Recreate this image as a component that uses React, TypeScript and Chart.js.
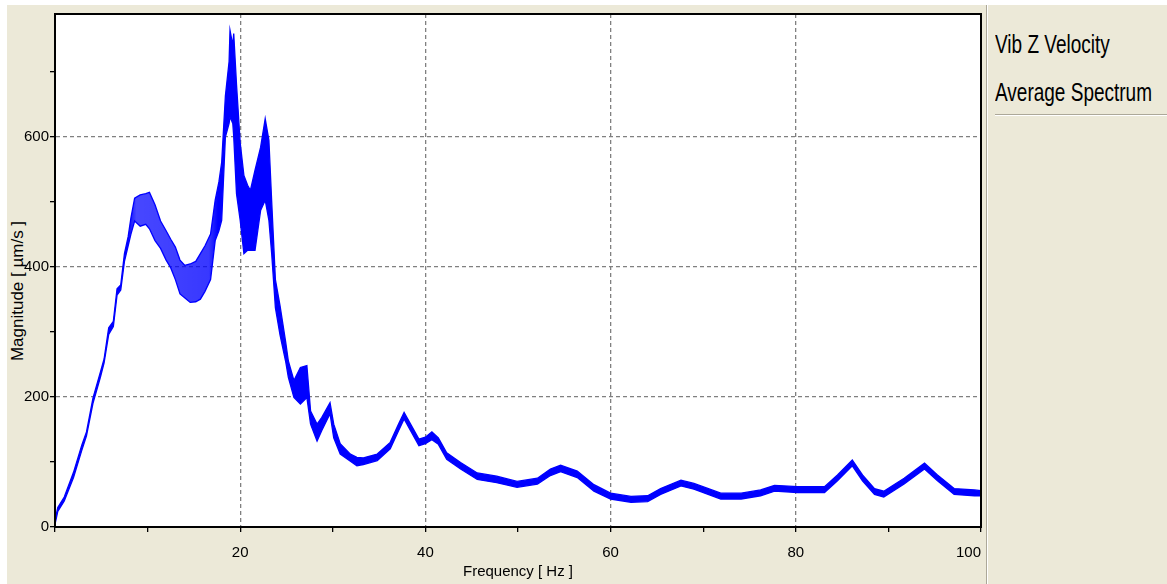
import React, { useEffect, useRef } from "react";
import { Chart, registerables } from "chart.js";

Chart.register(...registerables);

// Frequency points (Hz)
const freq = [
  0.0, 0.3, 1.0, 2.0, 2.9, 3.4, 4.1, 4.9, 5.3, 5.8, 6.3, 6.7, 7.1, 7.5, 7.9, 8.2, 8.6, 9.2, 9.8, 10.2,
  10.8, 11.4, 12.0, 12.5, 13.0, 13.5, 14.0, 14.6, 15.2, 15.7, 16.2, 16.8, 17.3, 17.7, 18.0, 18.4, 18.8, 18.9, 19.2, 19.3,
  19.6, 20.0, 20.4, 20.8, 21.1, 21.6, 22.2, 22.7, 23.1, 23.4, 23.8, 24.3, 24.9, 25.2, 25.8, 26.5, 27.2, 27.6, 28.3, 28.8,
  29.7, 30.1, 30.8, 31.9, 32.6, 33.3, 34.8, 36.2, 37.1, 37.7, 38.4, 39.3, 40.0, 40.7, 41.4, 42.3, 43.8, 45.6, 47.7, 49.9,
  52.1, 53.5, 54.6, 56.4, 58.2, 60.0, 62.2, 64.0, 65.4, 67.6, 69.0, 71.9, 74.1, 76.2, 77.7, 80.2, 83.1, 84.5, 86.1, 87.2,
  88.5, 89.5, 91.7, 93.9, 95.3, 97.1, 99.3, 100.0,
];

// Upper edge of the noisy spectrum trace (µm/s)
const upperMag = [
  10, 30, 46, 84, 126, 146, 198, 238, 258, 306, 316, 366, 372, 420, 446, 475, 505, 510, 512, 514,
  495, 470, 455, 442, 430, 410, 402, 404, 408, 420, 432, 450, 502, 530, 560, 662, 715, 763, 740, 758,
  680, 590, 540, 525, 517, 548, 583, 627, 594, 500, 380, 340, 285, 255, 225, 245, 248, 178, 158, 168,
  191, 158, 128, 112, 107, 106, 112, 130, 158, 176, 158, 135, 138, 146, 137, 114, 99, 83, 78, 70,
  75, 89, 95, 86, 65, 52, 47, 48, 59, 72, 67, 52, 52, 57, 64, 62, 62, 80, 103, 80,
  59, 55, 75, 98, 80, 59, 57, 56,
];

// Lower edge of the noisy spectrum trace (µm/s)
const lowerMag = [
  4, 24, 40, 76, 118, 140, 190, 230, 252, 296, 308, 356, 364, 408, 432, 450, 470, 462, 465, 458,
  440, 428, 410, 398, 380, 358, 352, 345, 346, 350, 362, 380, 440, 455, 471, 599, 620, 630, 620, 600,
  512, 471, 420, 425, 425, 425, 486, 502, 471, 420, 337, 295, 255, 230, 199, 189, 199, 158, 132, 148,
  174, 137, 112, 101, 94, 96, 102, 120, 148, 166, 148, 125, 128, 134, 127, 104, 89, 73, 68, 61,
  66, 79, 85, 76, 55, 43, 38, 39, 50, 63, 58, 43, 43, 48, 55, 53, 53, 71, 94, 71,
  50, 46, 66, 89, 71, 50, 48, 48,
];

const xTickValues = [0, 10, 20, 30, 40, 50, 60, 70, 80, 90, 100];
const xLabelValues = [20, 40, 60, 80, 100];
const xGridValues = [20, 40, 60, 80];
const yTickValues = [0, 100, 200, 300, 400, 500, 600, 700];
const yLabelValues = [0, 200, 400, 600];
const yGridValues = [200, 400, 600];
const xMin = 0;
const xMax = 100;
const yMin = 0;
const yMax = 788;

const xTitle = "Frequency [ Hz ]";
const yTitle = "Magnitude [ µm/s ]";
const legendLines = ["Vib Z Velocity", "Average Spectrum"];

const SANS = "'Liberation Sans', Arial, sans-serif";
const BEIGE = "#ECE9D8";
const TRACE = "#0000FF";

const plotFrame = {
  id: "plotFrame",
  beforeDraw(chart: any) {
    const { ctx, chartArea } = chart;
    if (!chartArea) return;
    ctx.save();
    ctx.fillStyle = "#ffffff";
    ctx.fillRect(chartArea.left, chartArea.top, chartArea.right - chartArea.left, chartArea.bottom - chartArea.top);
    ctx.restore();
  },
  afterDraw(chart: any) {
    const { ctx, chartArea } = chart;
    if (!chartArea) return;
    ctx.save();
    ctx.strokeStyle = "#000000";
    ctx.lineWidth = 2;
    ctx.setLineDash([]);
    ctx.strokeRect(chartArea.left, chartArea.top, chartArea.right - chartArea.left, chartArea.bottom - chartArea.top);
    ctx.restore();
  },
};

// band fill: the hatched-looking noisy stretch (≈8–17 Hz) is less dense than the rest
const bandFill = (c: any) => {
  const chart = c.chart;
  const area = chart.chartArea;
  if (!area) return TRACE;
  const g = chart.ctx.createLinearGradient(area.left, 0, area.right, 0);
  g.addColorStop(0, TRACE);
  g.addColorStop(0.078, TRACE);
  g.addColorStop(0.088, "rgba(0,0,255,0.72)");
  g.addColorStop(0.166, "rgba(0,0,255,0.78)");
  g.addColorStop(0.176, TRACE);
  g.addColorStop(1, TRACE);
  return g;
};

export default function App() {
  const canvasRef = useRef<HTMLCanvasElement | null>(null);

  useEffect(() => {
    if (!canvasRef.current) return;
    const upperPts = freq.map((f, i) => ({ x: f, y: upperMag[i] }));
    const lowerPts = freq.map((f, i) => ({ x: f, y: lowerMag[i] }));

    const chart = new Chart(canvasRef.current, {
      type: "line",
      data: {
        datasets: [
          {
            label: "upper",
            data: upperPts,
            borderColor: TRACE,
            borderWidth: 1.3,
            pointRadius: 0,
            tension: 0,
            fill: false,
          },
          {
            label: "lower",
            data: lowerPts,
            borderColor: TRACE,
            borderWidth: 1.3,
            pointRadius: 0,
            tension: 0,
            fill: "-1",
            backgroundColor: bandFill,
          },
        ],
      },
      options: {
        responsive: false,
        animation: false,
        events: [],
        layout: { padding: { left: 0, top: 14, right: 186, bottom: 0 } },
        plugins: {
          legend: { display: false },
          tooltip: { enabled: false },
          title: { display: false },
        },
        scales: {
          x: {
            type: "linear",
            min: xMin,
            max: xMax,
            afterBuildTicks: (s: any) => {
              s.ticks = xTickValues.map((v) => ({ value: v }));
            },
            afterFit: (s: any) => {
              s.height = 57;
            },
            ticks: {
              autoSkip: false,
              maxRotation: 0,
              align: "inner",
              padding: 12,
              color: "#000",
              font: { family: SANS, size: 15 },
              callback: (v: any) => (xLabelValues.includes(Number(v)) ? String(v) : ""),
            },
            grid: {
              color: (c: any) => (c.tick && xGridValues.includes(c.tick.value) ? "#808080" : "rgba(0,0,0,0)"),
              lineWidth: 1.3,
              drawTicks: true,
              tickLength: 5,
              tickColor: "#000",
              tickWidth: 1.3,
              borderDash: [4, 3],
              tickBorderDash: [],
            },
            border: { display: true, color: "#000", width: 2, dash: [4, 3] },
            title: {
              display: true,
              text: xTitle,
              color: "#000",
              font: { family: SANS, size: 15 },
              padding: { top: 0, bottom: 3 },
            },
          },
          y: {
            type: "linear",
            min: yMin,
            max: yMax,
            afterBuildTicks: (s: any) => {
              s.ticks = yTickValues.map((v) => ({ value: v }));
            },
            afterFit: (s: any) => {
              s.width = 55;
            },
            ticks: {
              autoSkip: false,
              padding: 1,
              color: "#000",
              font: { family: SANS, size: 15 },
              callback: (v: any) => (yLabelValues.includes(Number(v)) ? String(v) : ""),
            },
            grid: {
              color: (c: any) => (c.tick && yGridValues.includes(c.tick.value) ? "#808080" : "rgba(0,0,0,0)"),
              lineWidth: 1.3,
              drawTicks: true,
              tickLength: 5,
              tickColor: "#000",
              tickWidth: 1.3,
              borderDash: [4, 3],
              tickBorderDash: [],
            },
            border: { display: true, color: "#000", width: 2, dash: [4, 3] },
            title: { display: false },
          },
        },
      },
      plugins: [plotFrame],
    } as any);

    return () => chart.destroy();
  }, []);

  return (
    <div style={{ position: "fixed", left: 0, top: 0, width: 1167, height: 584, background: "#fff", overflow: "hidden" }}>
      <div style={{ position: "absolute", left: 7, top: 5, width: 979, height: 579, background: BEIGE }} />
      <div style={{ position: "absolute", left: 986, top: 5, width: 1, height: 579, background: "#ACA899" }} />
      <div style={{ position: "absolute", left: 987, top: 5, width: 1, height: 579, background: "#fff" }} />
      <div style={{ position: "absolute", left: 988, top: 5, width: 179, height: 579, background: BEIGE }} />
      <div style={{ position: "absolute", left: 995, top: 114, width: 172, height: 1, background: "#ACA899" }} />
      <div style={{ position: "absolute", left: 995, top: 115, width: 172, height: 1, background: "#fff" }} />
      {legendLines.map((t, i) => (
        <div
          key={t}
          style={{
            position: "absolute",
            left: 995,
            top: 31 + i * 48,
            fontFamily: SANS,
            fontSize: 25,
            lineHeight: "27px",
            color: "#000",
            whiteSpace: "nowrap",
            transform: "scaleX(0.76)",
            transformOrigin: "0 0",
          }}
        >
          {t}
        </div>
      ))}
      <div
        style={{
          position: "absolute",
          left: 17,
          top: 291,
          transform: "translate(-50%, -50%) rotate(-90deg)",
          fontFamily: SANS,
          fontSize: 17,
          lineHeight: "17px",
          color: "#000",
          whiteSpace: "nowrap",
        }}
      >
        {yTitle}
      </div>
      <canvas ref={canvasRef} width={1167} height={584} style={{ position: "absolute", left: 0, top: 0, width: 1167, height: 584 }} />
    </div>
  );
}
